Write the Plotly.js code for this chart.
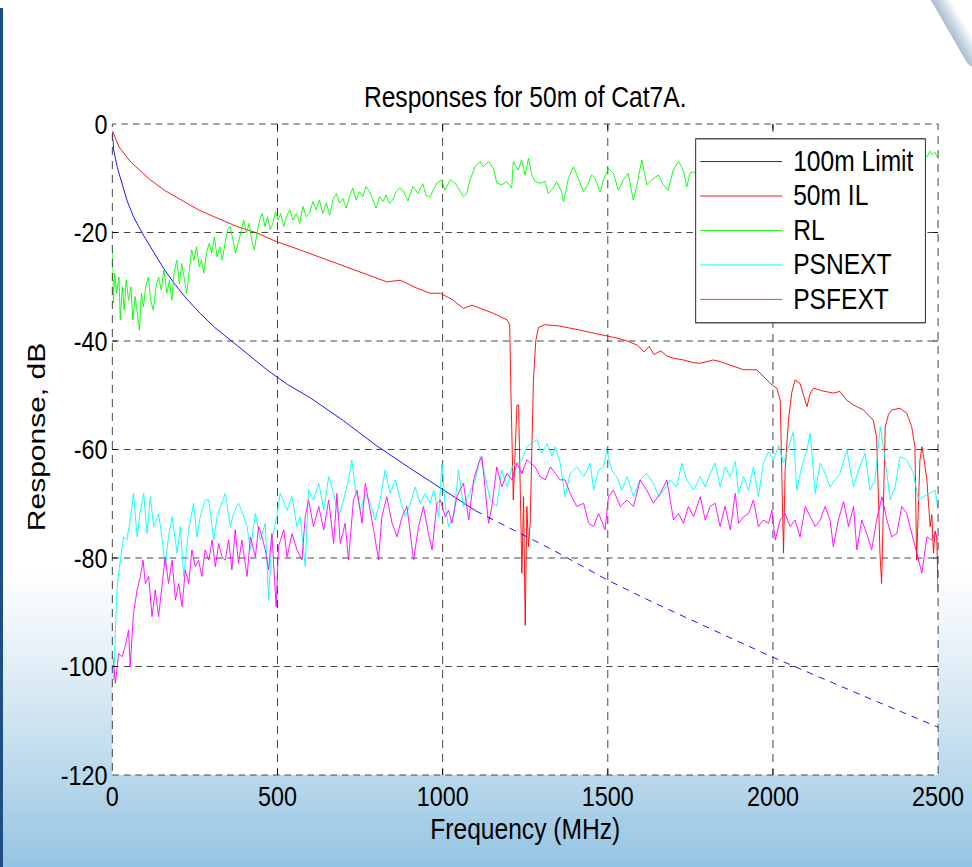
<!DOCTYPE html>
<html>
<head>
<meta charset="utf-8">
<script src="https://cdn.plot.ly/plotly-3.0.1.min.js"></script>
<style>
  html, body { margin: 0; padding: 0; }
  body {
    width: 972px; height: 867px; overflow: hidden; position: relative;
    background: linear-gradient(to bottom, #ffffff 0px, #ffffff 570px, #eaf3f9 640px, #d2e6f2 710px, #b4d5ea 790px, #94c4e3 867px);
  }
  #leftbar { position: absolute; left: 0; top: 8px; width: 3px; height: 859px; background: #1d4f86; }
  #swoosh { position: absolute; left: 946px; top: -24px; width: 18px; height: 96px;
    background: linear-gradient(to right, #a9bccf, #d6e0ea 55%, #ffffff);
    border-radius: 9px; transform: rotate(-30deg); }
  #chart { position: absolute; left: 0; top: 0; width: 1185px; height: 867px;
    transform: scaleX(0.82); transform-origin: 0 0; }
</style>
</head>
<body>
<div id="leftbar"></div>
<div id="swoosh"></div>
<div id="chart"></div>
<script>
// ---- Data ----
const limitFreq = [0, 4, 15, 29, 45, 64, 80, 95, 125, 155, 190, 226, 266, 310, 367, 420, 468, 530, 600, 700, 800, 900, 1000, 1100, 1235, 1336, 1497, 1638, 1820, 2000, 2250, 2500];
const limitDb = [-1.5, -4.8, -8.0, -10.9, -14.2, -17.1, -19.0, -20.6, -23.6, -26.6, -29.6, -32.3, -34.9, -37.5, -40.3, -42.9, -45.3, -48.0, -50.5, -54.7, -59.3, -63.4, -67.4, -71.3, -75.5, -78.6, -84.0, -88.2, -93.3, -98.3, -104.8, -111.2];
const limitSolidEnd = 1100; // limit drawn solid up to here, dashed beyond

const ilFreq = [0, 20, 54, 115, 160, 216, 260, 297, 340, 377, 438, 498, 550, 609, 660, 720, 780, 831, 872, 920, 962, 993, 1030, 1063, 1089, 1114, 1154, 1195, 1203, 1207, 1210, 1214, 1220, 1225, 1230, 1235, 1240, 1245, 1250, 1255, 1260, 1265, 1270, 1275, 1282, 1290, 1310, 1350, 1400, 1430, 1460, 1500, 1530, 1560, 1590, 1610, 1625, 1640, 1660, 1680, 1700, 1730, 1760, 1780, 1820, 1840, 1880, 1911, 1951, 1982, 1997, 2012, 2022, 2027, 2032, 2037, 2047, 2057, 2067, 2082, 2095, 2103, 2113, 2123, 2150, 2183, 2203, 2223, 2244, 2274, 2304, 2314, 2320, 2324, 2329, 2334, 2340, 2350, 2360, 2385, 2405, 2420, 2430, 2435, 2440, 2445, 2451, 2458, 2466, 2471, 2476, 2481, 2486, 2491, 2496, 2500];
const ilDb = [-1.2, -4.2, -6.9, -10.3, -12.3, -14.3, -15.8, -16.8, -17.9, -18.9, -20.1, -21.7, -22.8, -24.1, -25.2, -26.6, -27.9, -29.1, -28.8, -30.2, -31.2, -31.2, -32.4, -34.0, -33.4, -34.0, -34.9, -36.1, -37.0, -50.0, -58.9, -69.3, -59.5, -51.8, -51.8, -65.6, -82.8, -68.7, -92.4, -70.5, -77.9, -73.6, -59.5, -47.2, -40.0, -37.5, -37.0, -37.2, -37.8, -38.2, -38.5, -39.0, -39.5, -40.0, -40.8, -42.0, -41.0, -42.5, -41.8, -42.8, -43.2, -43.5, -44.0, -44.1, -43.5, -43.8, -44.7, -45.3, -45.3, -47.2, -48.1, -48.7, -50.9, -65.0, -79.1, -63.8, -54.6, -49.5, -47.2, -47.8, -50.5, -52.1, -49.6, -48.7, -49.2, -49.6, -49.3, -50.9, -51.8, -52.7, -54.6, -57.9, -70.0, -79.1, -84.7, -73.0, -55.8, -53.5, -52.7, -52.4, -53.3, -55.8, -59.5, -80.4, -70.0, -62.0, -59.5, -62.0, -65.6, -70.0, -74.2, -72.0, -79.1, -75.0, -76.1, -86.5];

const rlFreq = [0, 3, 7, 13, 20, 24, 30, 36, 42, 49, 56, 62, 69, 76, 82, 88, 94, 101, 109, 116, 124, 132, 140, 148, 156, 165, 173, 180, 187, 195, 203, 210, 217, 225, 233, 240, 247, 255, 263, 270, 277, 285, 293, 301, 309, 317, 325, 333, 341, 349, 357, 365, 373, 381, 390, 398, 406, 414, 422, 430, 438, 446, 454, 462, 470, 478, 486, 494, 502, 510, 519, 527, 537, 547, 557, 567, 577, 587, 597, 607, 617, 627, 637, 648, 658, 668, 678, 688, 698, 708, 718, 728, 738, 748, 758, 768, 779, 789, 799, 809, 819, 829, 839, 849, 859, 869, 880, 895, 910, 925, 940, 950, 962, 982, 997, 1007, 1023, 1038, 1053, 1063, 1073, 1083, 1098, 1113, 1123, 1139, 1154, 1164, 1179, 1194, 1209, 1214, 1229, 1239, 1250, 1260, 1270, 1280, 1295, 1310, 1320, 1335, 1345, 1360, 1366, 1381, 1396, 1411, 1426, 1436, 1451, 1461, 1477, 1487, 1502, 1517, 1532, 1547, 1562, 1577, 1587, 1603, 1618, 1633, 1653, 1668, 1683, 1698, 1714, 1729, 1739, 1749, 1759, 1780, 1820, 1870, 1920, 1970, 2020, 2070, 2120, 2170, 2220, 2270, 2320, 2370, 2420, 2460, 2467, 2475, 2483, 2490, 2500];
const rlDb = [-22.9, -33.0, -27.5, -31.2, -28.2, -36.1, -30.0, -34.3, -28.8, -32.5, -30.0, -36.1, -31.8, -34.9, -38.0, -31.2, -33.7, -30.0, -28.2, -32.5, -34.3, -30.0, -28.2, -30.6, -26.9, -31.2, -28.8, -32.5, -27.5, -25.1, -29.4, -25.7, -28.2, -31.2, -26.9, -23.2, -25.1, -22.6, -26.3, -25.1, -27.5, -23.8, -22.0, -23.8, -20.8, -24.5, -22.6, -25.1, -22.0, -19.5, -18.9, -21.4, -23.8, -22.0, -19.5, -17.7, -20.1, -18.3, -21.4, -23.2, -20.1, -17.7, -16.5, -18.9, -17.1, -19.5, -18.3, -16.2, -17.7, -16.5, -18.9, -17.1, -15.8, -17.7, -16.5, -18.3, -15.2, -17.1, -16.5, -14.3, -15.8, -14.0, -16.5, -14.6, -16.8, -14.0, -12.8, -14.6, -13.7, -15.5, -13.4, -11.8, -14.0, -12.5, -13.4, -11.5, -12.5, -14.0, -15.5, -13.4, -14.3, -13.1, -14.6, -14.0, -12.5, -11.8, -12.2, -14.2, -11.5, -12.8, -11.0, -13.2, -13.4, -10.9, -10.3, -12.2, -10.3, -10.9, -12.5, -13.4, -12.8, -10.3, -7.9, -6.9, -7.9, -6.9, -8.2, -10.9, -11.2, -10.6, -11.8, -6.9, -8.5, -6.6, -9.4, -6.3, -9.4, -10.6, -10.9, -10.6, -12.8, -11.8, -10.6, -12.5, -14.3, -10.0, -7.9, -10.0, -12.5, -11.6, -9.4, -10.0, -12.5, -10.3, -8.2, -9.1, -12.2, -10.3, -9.1, -14.0, -11.6, -6.6, -11.2, -10.3, -9.4, -11.2, -12.2, -8.5, -6.9, -8.5, -11.6, -9.1, -8.8, -9.5, -8.0, -10.5, -9.0, -11.0, -8.5, -9.5, -7.5, -10.0, -8.0, -9.5, -7.0, -8.5, -7.5, -6.0, -6.0, -5.0, -5.6, -5.2, -6.4];

const nextFreq = [0, 4, 9, 14, 19, 29, 34, 44, 54, 64, 75, 85, 95, 105, 115, 125, 140, 150, 160, 170, 181, 196, 206, 216, 231, 246, 256, 266, 281, 292, 307, 317, 327, 342, 357, 367, 382, 398, 408, 418, 433, 448, 463, 473, 483, 498, 508, 529, 544, 559, 569, 584, 594, 609, 625, 640, 655, 670, 685, 700, 715, 725, 735, 751, 766, 781, 796, 811, 826, 841, 857, 872, 887, 902, 917, 932, 947, 962, 973, 988, 998, 1008, 1018, 1033, 1048, 1063, 1084, 1099, 1114, 1129, 1144, 1164, 1179, 1195, 1210, 1225, 1240, 1255, 1270, 1285, 1300, 1316, 1331, 1341, 1356, 1371, 1386, 1406, 1427, 1447, 1457, 1472, 1487, 1497, 1512, 1527, 1543, 1558, 1578, 1598, 1618, 1638, 1654, 1669, 1689, 1709, 1724, 1739, 1760, 1780, 1795, 1810, 1825, 1840, 1855, 1871, 1886, 1896, 1911, 1926, 1941, 1956, 1971, 1987, 2002, 2017, 2032, 2047, 2062, 2072, 2087, 2103, 2113, 2128, 2143, 2158, 2173, 2188, 2203, 2224, 2244, 2259, 2279, 2294, 2309, 2325, 2340, 2355, 2370, 2385, 2405, 2425, 2441, 2456, 2476, 2491, 2500];
const nextDb = [-100.0, -102.5, -93.9, -85.9, -82.8, -78.5, -76.1, -76.7, -73.0, -68.1, -76.1, -71.2, -68.1, -75.5, -68.7, -74.2, -71.8, -76.1, -81.6, -76.1, -72.4, -79.1, -74.2, -83.4, -74.8, -69.9, -76.1, -72.4, -69.3, -69.3, -76.7, -72.4, -70.5, -68.1, -74.2, -71.8, -69.9, -72.4, -74.2, -78.5, -71.8, -76.7, -73.6, -87.7, -76.7, -72.4, -68.1, -71.2, -68.7, -74.2, -72.4, -81.6, -67.5, -69.3, -66.2, -71.2, -65.0, -68.1, -72.4, -69.3, -65.6, -61.9, -66.9, -71.2, -68.1, -69.9, -73.0, -69.3, -63.8, -68.1, -65.6, -69.3, -72.4, -69.9, -66.9, -69.9, -68.1, -69.9, -67.5, -72.4, -62.6, -70.5, -74.2, -72.4, -63.8, -70.5, -67.5, -65.6, -61.3, -65.0, -69.3, -70.5, -63.8, -66.9, -63.2, -62.5, -61.9, -59.5, -58.9, -58.2, -60.7, -58.9, -61.3, -59.5, -62.5, -68.7, -64.4, -63.2, -65.0, -62.5, -67.5, -63.8, -63.2, -60.1, -63.8, -65.0, -67.5, -65.0, -68.7, -65.6, -64.4, -66.2, -68.7, -67.5, -65.6, -66.9, -62.5, -65.6, -67.5, -65.0, -66.9, -64.4, -62.5, -66.9, -63.2, -65.0, -62.2, -68.1, -65.0, -67.5, -63.2, -68.7, -62.5, -60.4, -61.9, -59.2, -62.5, -59.5, -56.7, -67.5, -63.2, -60.1, -57.0, -68.1, -62.5, -64.4, -66.9, -65.6, -64.4, -60.1, -66.9, -63.8, -60.7, -67.5, -65.6, -55.8, -61.9, -69.3, -66.9, -61.3, -61.9, -64.4, -69.3, -68.7, -68.1, -67.5, -71.2];

const fextFreq = [0, 4, 9, 19, 29, 39, 49, 54, 64, 75, 85, 93, 100, 110, 120, 130, 140, 150, 160, 170, 181, 191, 201, 211, 221, 231, 241, 251, 261, 271, 281, 292, 302, 312, 322, 332, 342, 352, 362, 372, 382, 392, 408, 418, 433, 443, 453, 463, 473, 483, 496, 503, 519, 529, 544, 559, 574, 584, 594, 609, 625, 640, 655, 670, 680, 690, 705, 715, 730, 741, 756, 766, 781, 791, 806, 816, 831, 847, 862, 877, 892, 912, 927, 942, 957, 968, 983, 993, 1008, 1018, 1028, 1043, 1063, 1079, 1094, 1109, 1119, 1134, 1139, 1149, 1164, 1179, 1195, 1210, 1225, 1240, 1255, 1280, 1295, 1311, 1326, 1341, 1356, 1371, 1386, 1406, 1427, 1442, 1457, 1472, 1492, 1502, 1517, 1538, 1558, 1578, 1598, 1618, 1638, 1659, 1679, 1699, 1714, 1729, 1744, 1760, 1780, 1795, 1810, 1825, 1840, 1855, 1871, 1886, 1896, 1911, 1926, 1941, 1956, 1971, 1987, 1997, 2007, 2022, 2037, 2052, 2067, 2082, 2098, 2113, 2128, 2143, 2158, 2173, 2183, 2198, 2214, 2229, 2244, 2254, 2269, 2284, 2299, 2314, 2330, 2345, 2360, 2375, 2390, 2405, 2420, 2436, 2451, 2466, 2481, 2491, 2500];
const fextDb = [-98.0, -99.4, -103.1, -97.6, -98.2, -96.3, -93.3, -100.0, -90.2, -85.9, -83.4, -80.4, -84.7, -83.4, -90.8, -85.9, -90.8, -85.3, -79.8, -84.7, -80.4, -87.7, -84.7, -89.0, -82.2, -84.7, -78.5, -81.6, -80.4, -83.4, -78.5, -80.4, -76.7, -81.6, -77.3, -79.8, -80.4, -76.7, -82.2, -74.8, -81.0, -76.7, -83.4, -76.1, -79.8, -74.2, -76.1, -78.5, -82.2, -75.5, -89.0, -77.9, -74.8, -79.8, -75.5, -78.5, -80.4, -72.4, -69.3, -74.2, -70.5, -74.8, -69.3, -77.3, -68.1, -77.3, -73.6, -80.4, -69.3, -67.5, -73.6, -66.2, -71.2, -74.8, -80.4, -72.4, -68.7, -73.6, -76.1, -72.4, -70.5, -80.4, -74.2, -70.5, -75.5, -78.5, -69.9, -69.3, -72.4, -71.2, -73.6, -68.7, -66.2, -73.0, -65.6, -62.5, -61.3, -70.5, -73.6, -70.5, -63.2, -66.9, -64.4, -65.6, -62.5, -64.4, -61.9, -63.2, -65.0, -65.6, -63.2, -64.4, -65.6, -65.6, -68.1, -70.5, -69.9, -73.6, -74.2, -71.8, -74.8, -68.7, -67.5, -70.5, -69.3, -70.5, -65.6, -67.5, -69.9, -68.1, -65.6, -73.0, -71.8, -73.6, -70.5, -72.4, -68.7, -73.0, -70.5, -69.9, -74.2, -70.5, -74.8, -68.1, -73.6, -72.4, -71.8, -69.3, -74.2, -73.0, -73.6, -71.2, -76.7, -73.0, -71.8, -74.2, -73.0, -76.1, -70.5, -72.4, -74.2, -73.0, -70.5, -73.0, -77.9, -73.0, -69.6, -74.2, -70.5, -78.5, -73.0, -75.5, -78.5, -73.0, -68.7, -73.0, -76.1, -75.5, -70.5, -71.8, -75.5, -79.1, -82.8, -76.1, -76.7, -75.5, -76.7];

const xTicks = [0, 500, 1000, 1500, 2000, 2500];
const yTicks = [0, -20, -40, -60, -80, -100, -120];
const seriesNames = ['100m Limit', '50m IL', 'RL', 'PSNEXT', 'PSFEXT'];
const titleText = 'Responses for 50m of Cat7A.';
const xTitle = 'Frequency (MHz)';
const yTitle = 'Response, dB';

// ---- Build traces ----
const solidIdx = limitFreq.map((f, i) => i).filter(i => limitFreq[i] <= limitSolidEnd);
const dashIdx = limitFreq.map((f, i) => i).filter(i => limitFreq[i] >= limitSolidEnd);
// legend text drawn a little larger than the legend row pitch font
const legName = n => '<span style="font-size:30px">\u00a0' + n + '\u00a0</span>';

const lw = 1;
const traces = [
  { x: solidIdx.map(i => limitFreq[i]), y: solidIdx.map(i => limitDb[i]), name: legName(seriesNames[0]),
    type: 'scatter', mode: 'lines', line: { color: '#0000ff', width: lw } },
  { x: ilFreq, y: ilDb, name: legName(seriesNames[1]), type: 'scatter', mode: 'lines', line: { color: '#ff0000', width: lw } },
  { x: rlFreq, y: rlDb, name: legName(seriesNames[2]), type: 'scatter', mode: 'lines', line: { color: '#00ff00', width: lw } },
  { x: nextFreq, y: nextDb, name: legName(seriesNames[3]), type: 'scatter', mode: 'lines', line: { color: '#00ffff', width: lw } },
  { x: fextFreq, y: fextDb, name: legName(seriesNames[4]), type: 'scatter', mode: 'lines', line: { color: '#ff00ff', width: lw } },
  { x: dashIdx.map(i => limitFreq[i]), y: dashIdx.map(i => limitDb[i]), name: legName(seriesNames[0]),
    type: 'scatter', mode: 'lines', line: { color: '#0000ff', width: lw, dash: '8px,7px' }, showlegend: false }
];

const font = '"Liberation Sans", Arial, Helvetica, sans-serif';
const gridDash = '8px,6px';

const axisCommon = {
  showgrid: true, gridcolor: '#333333', gridwidth: 1, griddash: gridDash,
  zeroline: false, showline: false,
  ticks: 'inside', ticklen: 6, tickcolor: '#000000', tickwidth: 1, mirror: 'ticks',
  tickfont: { family: font, size: 28.5, color: '#000000' }
};

const layout = {
  width: 1185, height: 867,
  margin: { l: 137, r: 41, t: 124, b: 92, pad: 0 },
  paper_bgcolor: 'rgba(0,0,0,0)',
  plot_bgcolor: '#ffffff',
  showlegend: true,
  title: { text: titleText, font: { family: font, size: 30, color: '#000000' },
           x: 0.5, xref: 'paper', xanchor: 'center', y: 1 - 97 / 867, yref: 'container', yanchor: 'middle' },
  xaxis: Object.assign({}, axisCommon, {
    range: [0, 2500], tickvals: xTicks, ticktext: xTicks.map(String), ticklabelstandoff: 2,
    title: { text: xTitle, font: { family: font, size: 30, color: '#000000' }, standoff: 6 }
  }),
  yaxis: Object.assign({}, axisCommon, {
    range: [-120, 0], tickvals: yTicks, ticktext: yTicks.map(String), ticklabelstandoff: 5,
    title: { text: '<span>\u00a0\u00a0\u00a0</span>' + yTitle, font: { family: font, size: 30, color: '#000000' }, standoff: 9 }
  }),
  shapes: [
    { type: 'rect', xref: 'paper', yref: 'paper', x0: 0, x1: 1, y0: 0, y1: 1,
      line: { color: '#333333', width: 1, dash: gridDash }, fillcolor: 'rgba(0,0,0,0)', layer: 'above' }
  ],
  legend: {
    x: 0.706, y: 0.978, xanchor: 'left', yanchor: 'top',
    bgcolor: '#ffffff', bordercolor: '#000000', borderwidth: 1,
    font: { family: font, size: 24.2, color: '#000000' },
    itemwidth: 100, tracegroupgap: 0, valign: 'middle'
  }
};

Plotly.newPlot('chart', traces, layout, { staticPlot: true, displayModeBar: false });
</script>
</body>
</html>
